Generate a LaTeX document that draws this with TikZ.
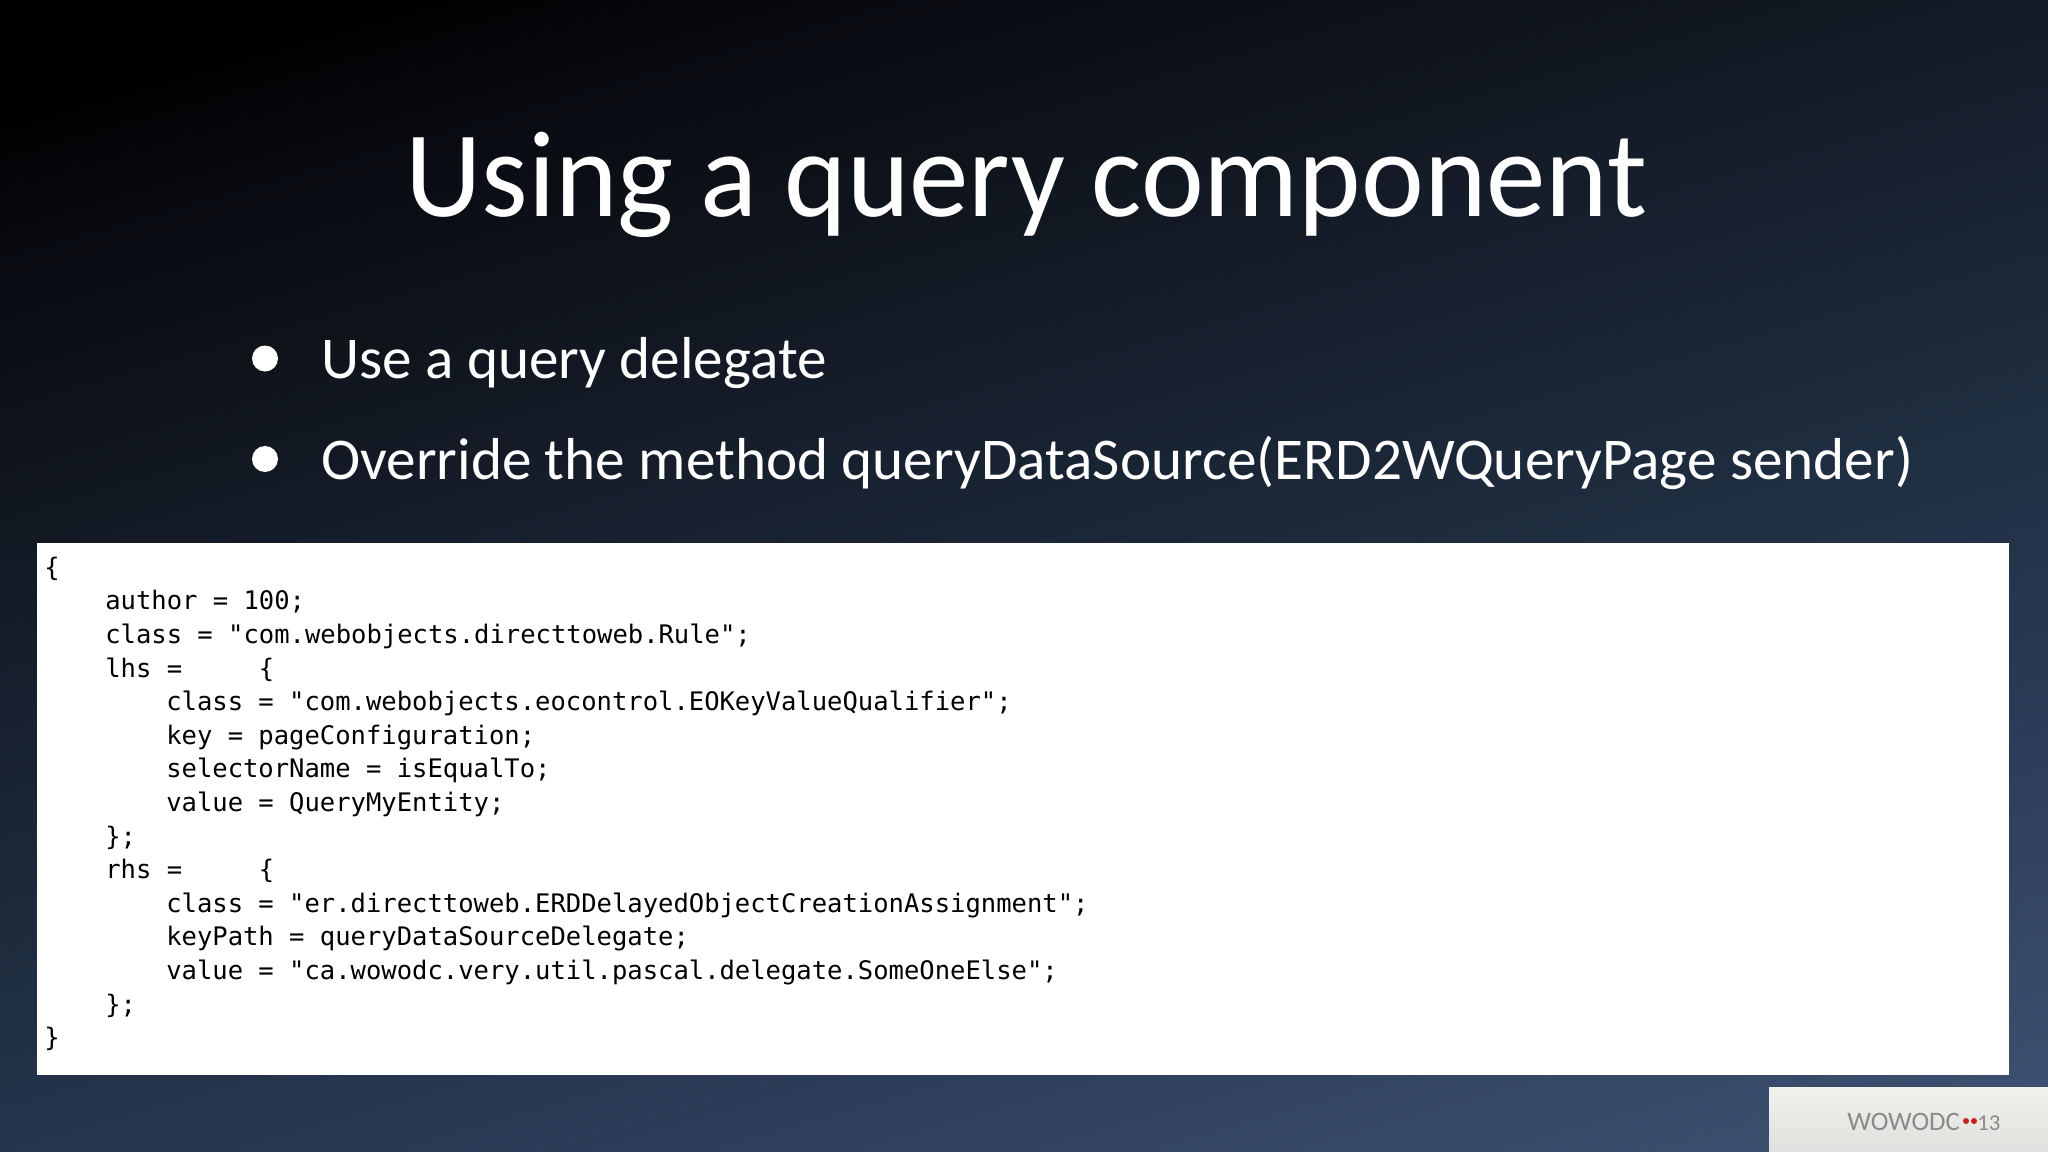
\documentclass[tikz,border=0pt]{standalone}
\usepackage{fontspec}
\setmainfont{Carlito}
\newfontfamily\titlefont{Carlito}[FakeStretch=0.97]
\newfontfamily\codefont{DejaVu Sans Mono}[Ligatures=NoCommon]
\definecolor{sa}{HTML}{425474}
\definecolor{sb}{HTML}{354866}
\definecolor{sc}{HTML}{2A3A55}
\definecolor{sd}{HTML}{1B2838}
\definecolor{se}{HTML}{151C29}
\definecolor{sf}{HTML}{0E1319}
\definecolor{sg}{HTML}{080A10}
\definecolor{logobg}{HTML}{F1F1EC}
\definecolor{logobot}{HTML}{DFE1DE}
\definecolor{logotxt}{HTML}{8A8A8A}
\definecolor{logored}{HTML}{C8221E}
\pgfdeclareverticalshading{slidebg}{100bp}{
  color(0bp)=(sa); color(17.7bp)=(sa); color(26.6bp)=(sb); color(35.6bp)=(sc); color(50bp)=(sd);
  color(59bp)=(se); color(66bp)=(sf); color(72bp)=(sg); color(77bp)=(black); color(100bp)=(black)}
\tikzset{
  titletext/.style={anchor=base west,inner sep=0pt,text=white,font=\titlefont\fontsize{92}{92}\selectfont},
  bullettext/.style={anchor=base west,inner sep=0pt,text=white,font=\fontsize{44.4}{44.4}\selectfont},
  bulletdot/.style={circle,fill=white,draw=none,minimum size=19.5pt,inner sep=0pt},
  code/.style={anchor=base west,inner sep=0pt,text=black,font=\codefont\fontsize{19.15}{19.15}\selectfont},
  logotext/.style={anchor=base west,inner sep=0pt,text=logotxt,font=\fontsize{20}{20}\selectfont},
  logoyear/.style={anchor=base west,inner sep=0pt,text=logotxt,font=\fontsize{17}{17}\selectfont}
}
\begin{document}
\begin{tikzpicture}[x=0.75pt,y=-0.75pt]
\path[use as bounding box,shading=slidebg,shading angle=16] (0,0) rectangle (2048,1152);
\node[titletext] (title) at (405,216) {Using a query component};
\node[bulletdot] (b1) at (265,358.5) {};
\node[bulletdot] (b2) at (265,459) {};
\node[bullettext] (t1) at (321,378) {Use a query delegate};
\node[bullettext] (t2) at (321,479) {Override the method queryDataSource(ERD2WQueryPage sender)};
\fill[white] (37,543) rectangle (2009,1075);
\foreach \n/\x/\txt [count=\i from 0] in {
 l0/44/\{,
 l1/105/author = 100;,
 l2/105/class = "com.webobjects.directtoweb.Rule";,
 l3/105/lhs =~~~~~\{,
 l4/166/class = "com.webobjects.eocontrol.EOKeyValueQualifier";,
 l5/166/key = pageConfiguration;,
 l6/166/selectorName = isEqualTo;,
 l7/166/value = QueryMyEntity;,
 l8/105/\};,
 l9/105/rhs =~~~~~\{,
 l10/166/class = "er.directtoweb.ERDDelayedObjectCreationAssignment";,
 l11/166/keyPath = queryDataSourceDelegate;,
 l12/166/value = "ca.wowodc.very.util.pascal.delegate.SomeOneElse";,
 l13/105/\};,
 l14/44/\}}
 {\node[code] (\n) at (\x,{576.2+33.6*\i}) {\txt};}
\shade[top color=logobg,bottom color=logobot] (1769,1087) rectangle (2048,1152);
\node[logotext] (logo) at (1847,1130) {WOWODC};
\node[logoyear] (year) at (1977,1130) {13};
\fill[logored] (1966,1121) circle (3) (1974,1121) circle (3);
\end{tikzpicture}
\end{document}
